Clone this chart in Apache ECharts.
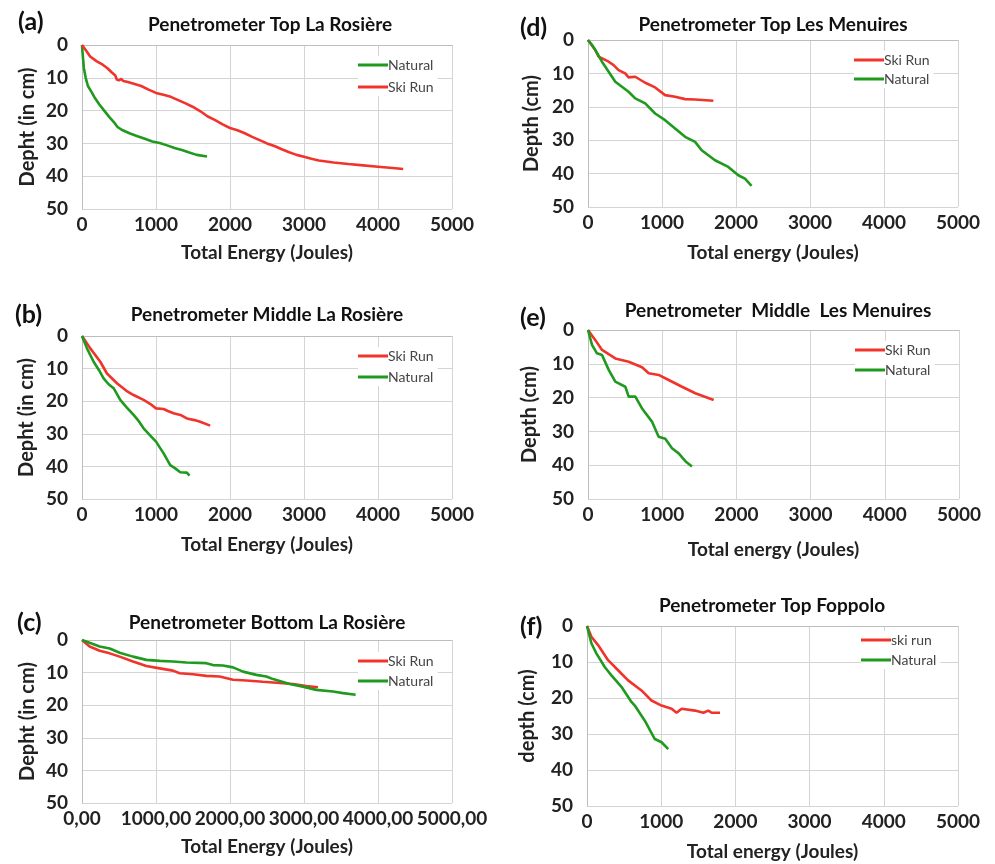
<!DOCTYPE html>
<html>
<head>
<meta charset="utf-8">
<script src="https://cdn.jsdelivr.net/npm/echarts@6/dist/echarts.min.js"></script>
<style>
  html, body { margin: 0; padding: 0; background: #fff; }
  #chart { width: 995px; height: 864px; }
</style>
</head>
<body>
<div id="chart"></div>
<script>
// Penetrometer profiles: [total energy (J), depth (cm)]
const naturalA = [[0,0],[10,3],[25,7],[50,10],[80,12.5],[120,14],[170,16],[230,18],[300,20],[370,22],[430,23.5],[480,25],[550,26],[650,27],[750,27.8],[850,28.6],[950,29.4],[1050,29.9],[1150,30.6],[1250,31.4],[1350,32],[1450,32.8],[1550,33.5],[1690,34]];
const skiRunA = [[0,0],[50,1.5],[110,3.5],[200,5],[280,6],[340,7],[400,8.3],[450,9.3],[470,10.5],[500,10.8],[530,10.3],[560,11],[620,11.3],[700,11.8],[800,12.5],[900,13.6],[1000,14.6],[1100,15.2],[1200,15.8],[1300,16.8],[1400,17.8],[1500,18.9],[1600,20.2],[1700,21.8],[1800,22.9],[1900,24.2],[2000,25.3],[2100,26],[2200,26.9],[2300,28],[2400,29],[2500,30],[2600,30.8],[2700,31.8],[2800,32.7],[2900,33.5],[3000,34.1],[3100,34.7],[3200,35.2],[3400,35.8],[3600,36.3],[3800,36.7],[4000,37.1],[4200,37.5],[4340,37.8]];

const skiRunB = [[0,0],[112,3.8],[247,7.9],[337,11.5],[472,14.5],[600,16.8],[697,18.1],[832,19.6],[920,20.8],[1000,22.2],[1103,22.4],[1160,23],[1237,23.7],[1330,24.2],[1417,25.3],[1520,25.8],[1597,26.3],[1732,27.5]];
const naturalB = [[0,0],[67,3.8],[157,7.9],[230,10.5],[292,13],[360,14.8],[427,16],[517,19.6],[600,21.8],[697,24.2],[770,26.2],[832,28.3],[920,30.5],[1000,32.4],[1103,36],[1192,39.6],[1260,40.6],[1327,41.8],[1417,41.9],[1453,42.8]];

const skiRunC = [[0,0],[103,2],[239,3.3],[374,4.1],[509,5.1],[689,6.6],[869,8],[1050,8.7],[1230,9.4],[1320,10.2],[1500,10.5],[1680,11],[1860,11.2],[2041,12.2],[2221,12.4],[2446,12.8],[2626,13.1],[2851,13.5],[3032,14.1],[3190,14.5]];
const naturalC = [[0,0],[239,2],[374,2.6],[509,3.9],[689,5.1],[869,6.1],[1050,6.4],[1230,6.6],[1410,6.9],[1680,7.1],[1770,7.7],[1905,7.8],[2041,8.4],[2176,9.7],[2356,10.7],[2491,11.2],[2581,12],[2806,13.5],[2986,14.3],[3167,15.3],[3392,15.8],[3527,16.3],[3698,16.8]];

const skiRunD = [[0,0],[99,3],[144,5],[279,6.5],[346,7.5],[413,9],[503,10],[548,11.2],[638,11],[773,12.8],[907,14.2],[1042,16.5],[1177,17],[1312,17.7],[1447,17.8],[1694,18.2]];
const naturalD = [[0,0],[54,1.5],[99,3],[189,6.5],[279,9.5],[369,12.5],[548,15.5],[638,17.5],[773,19],[907,22],[1042,24],[1177,26.5],[1312,29],[1447,30.5],[1536,33],[1716,36],[1896,38],[2031,40.5],[2121,41.5],[2210,43.7]];

const skiRunE = [[0,0],[99,3],[189,5.9],[368,8.4],[548,9.4],[728,11],[818,12.8],[952,13.3],[1087,14.8],[1267,16.8],[1446,18.7],[1694,20.7]];
const naturalE = [[0,0],[54,4.4],[121,6.9],[189,7.4],[279,11.8],[368,15.3],[503,16.8],[548,19.7],[638,19.7],[728,23.2],[862,27.1],[952,31.6],[1042,32.2],[1132,35],[1222,36.5],[1312,38.8],[1401,40.4]];

const skiRunF = [[0,0],[59,3],[149,5.3],[284,9.5],[419,12.3],[554,15.1],[734,17.9],[869,20.7],[1005,22.1],[1140,23],[1207,24.1],[1275,23],[1455,23.5],[1568,24.1],[1635,23.5],[1680,24.1],[1793,24.1]];
const naturalF = [[0,0],[59,4.8],[126,7.6],[239,11.4],[329,13.7],[464,16.9],[599,21.1],[644,22.1],[779,26.3],[914,31.4],[1005,32.3],[1095,34.2]];

const panelLetters = ['(a)', '(b)', '(c)', '(d)', '(e)', '(f)'];
const panelTitles = [
  'Penetrometer Top La Rosière',
  'Penetrometer Middle La Rosière',
  'Penetrometer Bottom La Rosière',
  'Penetrometer Top Les Menuires',
  'Penetrometer  Middle  Les Menuires',
  'Penetrometer Top Foppolo'
];
const xTitles = ['Total Energy (Joules)', 'Total Energy (Joules)', 'Total Energy (Joules)',
                 'Total energy (Joules)', 'Total energy (Joules)', 'Total energy (Joules)'];
const yTitles = ['Depht (in cm)', 'Depht (in cm)', 'Depht (in cm)', 'Depth (cm)', 'Depth (cm)', 'depth (cm)'];

const RED = '#f0342c';
const GREEN = '#1f9a1f';
const FONT = 'Lato, "Open Sans", sans-serif';

// Layout of each panel
const layout = [
  { grid: [82, 45, 370, 164], letter: [13, 4], title: [265, 10], legend: [358, 56], xGap: 34, yGap: 44, legendGap: 8 },
  { grid: [82, 336, 370, 163], letter: [10, 297], title: [262, 300], legend: [358, 347], xGap: 36, yGap: 45, legendGap: 7 },
  { grid: [82, 640, 370, 163], letter: [12, 605], title: [262, 608], legend: [358, 652], xGap: 34, yGap: 44, legendGap: 6 },
  { grid: [588, 40, 370, 167], letter: [515, 10], title: [768, 10], legend: [854, 51], xGap: 36, yGap: 46, legendGap: 5 },
  { grid: [588, 330, 371, 169], letter: [515, 300], title: [773, 296], legend: [855, 341], xGap: 41, yGap: 48, legendGap: 6 },
  { grid: [587, 626, 371, 180], letter: [515, 609], title: [767, 591], legend: [861, 631], xGap: 36, yGap: 49, legendGap: 6 }
];

const seriesDefs = [
  [['Natural', naturalA, GREEN], ['Ski Run', skiRunA, RED]],
  [['Ski Run', skiRunB, RED], ['Natural', naturalB, GREEN]],
  [['Ski Run', skiRunC, RED], ['Natural', naturalC, GREEN]],
  [['Ski Run', skiRunD, RED], ['Natural', naturalD, GREEN]],
  [['Ski Run', skiRunE, RED], ['Natural', naturalE, GREEN]],
  [['ski run', skiRunF, RED], ['Natural', naturalF, GREEN]]
];

const grids = [], xAxes = [], yAxes = [], series = [], legends = [], titles = [];

layout.forEach((p, i) => {
  grids.push({ left: p.grid[0], top: p.grid[1], width: p.grid[2], height: p.grid[3], containLabel: false });
  xAxes.push({
    type: 'value', gridIndex: i, min: 0, max: 5000, interval: 1000,
    name: xTitles[i], nameLocation: 'middle', nameGap: p.xGap,
    nameTextStyle: { fontFamily: FONT, fontWeight: 'bold', fontSize: 19, color: '#222' },
    axisLine: { show: true, lineStyle: { color: '#bdbdbd', width: 1 } },
    axisTick: { show: false },
    axisLabel: {
      margin: 6, fontFamily: FONT, fontWeight: 'bold', fontSize: 19, color: '#222',
      formatter: i === 2 ? (v) => v.toFixed(2).replace('.', ',') : (v) => String(v)
    },
    splitLine: { show: true, lineStyle: { color: '#d4d4d4', width: 1 } }
  });
  yAxes.push({
    type: 'value', gridIndex: i, min: 0, max: 50, interval: 10, inverse: true,
    name: yTitles[i], nameLocation: 'middle', nameGap: p.yGap, nameRotate: 90,
    nameTextStyle: { fontFamily: FONT, fontWeight: 'bold', fontSize: 20, color: '#222' },
    axisLine: { show: true, lineStyle: { color: '#bdbdbd', width: 1 } },
    axisTick: { show: false },
    axisLabel: { margin: 14, fontFamily: FONT, fontWeight: 'bold', fontSize: 19, color: '#222' },
    splitLine: { show: true, lineStyle: { color: '#d4d4d4', width: 1 } }
  });
  seriesDefs[i].forEach(([name, data, color]) => {
    series.push({
      type: 'line', name, data, xAxisIndex: i, yAxisIndex: i,
      showSymbol: false, symbol: 'none', smooth: false, animation: false,
      lineStyle: { color, width: 2.6 }, itemStyle: { color }
    });
  });
  legends.push({
    orient: 'vertical', left: p.legend[0], top: p.legend[1],
    data: seriesDefs[i].map(s => s[0]),
    icon: 'rect', itemWidth: 30, itemHeight: 3, itemGap: p.legendGap,
    backgroundColor: '#fff', padding: [2, 4, 2, 0],
    textStyle: { fontFamily: FONT, fontSize: 14, color: '#444', padding: [0, 0, 0, -5] },
    selectedMode: false
  });
  titles.push({
    text: panelTitles[i], left: p.title[0], top: p.title[1], textAlign: 'center',
    textStyle: { fontFamily: FONT, fontWeight: 'bold', fontSize: 19, color: '#111' }
  });
  titles.push({
    text: panelLetters[i], left: p.letter[0], top: p.letter[1],
    textStyle: { fontFamily: FONT, fontWeight: 'bold', fontSize: 25, color: '#111' }
  });
});

const chart = echarts.init(document.getElementById('chart'), null, { renderer: 'canvas' });
chart.setOption({
  animation: false,
  backgroundColor: '#fff',
  title: titles,
  grid: grids,
  xAxis: xAxes,
  yAxis: yAxes,
  legend: legends,
  series
});
</script>
</body>
</html>
